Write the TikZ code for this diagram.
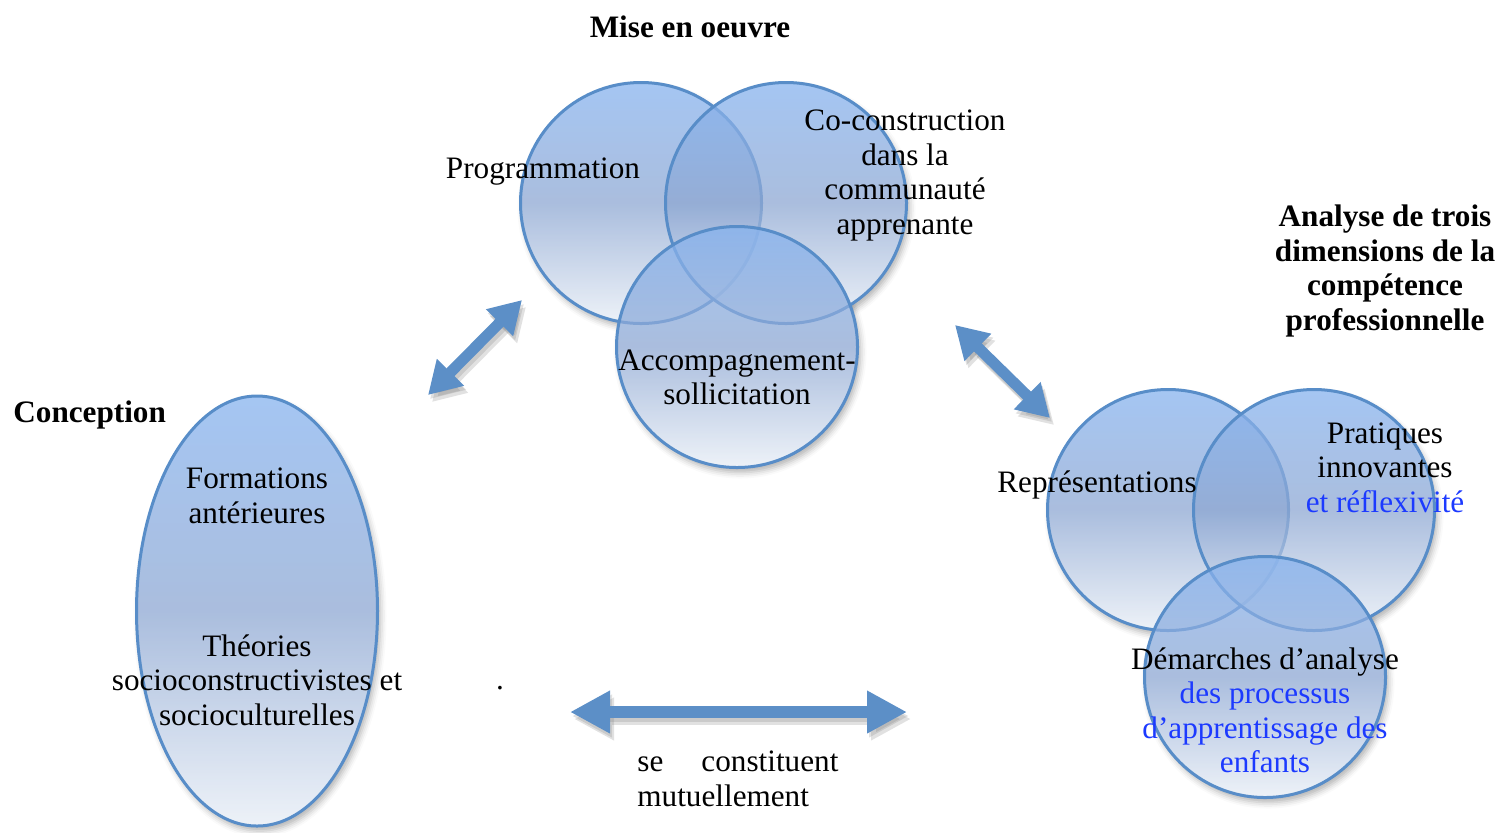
\documentclass[tikz,border=0pt]{standalone}
\usepackage{fontspec}
\setmainfont{Liberation Serif}
\usetikzlibrary{arrows.meta,shapes.geometric,shadows.blur}
\definecolor{edgeblue}{RGB}{88,141,200}
\definecolor{arrowblue}{RGB}{92,143,199}
\definecolor{topblue}{RGB}{135,179,239}
\definecolor{midblue}{RGB}{142,168,211}
\definecolor{botblue}{RGB}{232,238,246}
\definecolor{txtblue}{RGB}{28,58,255}
\definecolor{shadowgray}{RGB}{120,120,120}
\tikzset{
  venn/.style={circle, minimum size=120.5pt, inner sep=0pt, draw=edgeblue, line width=1.5pt,
    top color=topblue, bottom color=botblue, middle color=midblue, fill opacity=0.75},
  vennell/.style={ellipse, minimum width=120.5pt, minimum height=215pt, inner sep=0pt, draw=edgeblue, line width=1.5pt,
    top color=topblue, bottom color=botblue, middle color=midblue, fill opacity=0.75},
  softshadow/.style={blur shadow={shadow xshift=1.5pt, shadow yshift=-2.5pt, shadow blur radius=3pt, shadow opacity=30}},
  lbl/.style={inner sep=0pt, align=center, font=\fontsize{15.6}{17.25}\selectfont},
  ttl/.style={inner sep=0pt, align=center, font=\fontsize{15.6}{17.25}\selectfont\bfseries},
  bigarrow/.style={line width=6pt, draw=arrowblue, {Triangle[length=20pt,width=20pt]}-{Triangle[length=20pt,width=20pt]}},
  diagarrow/.style={line width=5.5pt, draw=arrowblue, {Triangle[length=16pt,width=18pt]}-{Triangle[length=16pt,width=18pt]}},
  arrowshadow/.style={draw=shadowgray, opacity=0.22}
}
\begin{document}
\begin{tikzpicture}[x=0.5pt, y=-0.5pt]
\useasboundingbox (0,0) rectangle (1503,832);
% positions
\coordinate (pA) at (641,203);
\coordinate (pB) at (786,203);
\coordinate (pC) at (737,347);
\coordinate (pD) at (1168,510);
\coordinate (pE) at (1314,510);
\coordinate (pF) at (1265,677);
\coordinate (pG) at (257,611);
% shadows
\foreach \p in {pA,pB,pC,pD,pE,pF} \path[softshadow] (\p) circle (120.5);
\path[softshadow] (pG) ellipse (120.5 and 215);
% white bases
\foreach \p in {pA,pB,pC,pD,pE,pF} \fill[white] (\p) circle (120.5);
\fill[white] (pG) ellipse (120.5 and 215);
% shapes
\node[venn] (cA) at (pA) {};
\node[venn] (cB) at (pB) {};
\node[venn] (cC) at (pC) {};
\node[venn] (cD) at (pD) {};
\node[venn] (cE) at (pE) {};
\node[venn] (cF) at (pF) {};
\node[vennell] (ell) at (pG) {};
% arrows
\coordinate (la1) at (428,395);
\coordinate (la2) at (522,300);
\coordinate (ra1) at (955,325);
\coordinate (ra2) at (1050,418);
\coordinate (ba1) at (570,712);
\coordinate (ba2) at (907,712);
\foreach \s in {(2,4),(4,7)} {
  \draw[diagarrow, arrowshadow] ([shift={\s}]la1) -- ([shift={\s}]la2);
  \draw[diagarrow, arrowshadow] ([shift={\s}]ra1) -- ([shift={\s}]ra2);
  \draw[bigarrow, arrowshadow] ([shift={\s}]ba1) -- ([shift={\s}]ba2);
}
\draw[diagarrow] (la1) -- (la2);
\draw[diagarrow] (ra1) -- (ra2);
\draw[bigarrow] (ba1) -- (ba2);
% titles
\node[ttl] (tMise) at (690,27) {Mise en oeuvre};
\node[ttl, anchor=west] (tConc) at (13,415) {Conception};
\node[ttl] (tAna) at (1385,271) {Analyse de trois\\dimensions de la\\compétence\\professionnelle};
% labels
\node[lbl] (lA) at (543,172) {Programmation};
\node[lbl] (lB) at (905,175.5) {Co-construction\\dans la\\communauté\\apprenante};
\node[lbl] (lC) at (737,377.5) {Accompagnement-\\sollicitation};
\node[lbl] (lD) at (1097,485) {Représentations};
\node[lbl] (lE) at (1385,467.5) {Pratiques\\innovantes\\\textcolor{txtblue}{et réflexivité}};
\node[lbl] (lF) at (1265,710.5) {Démarches d’analyse\\\textcolor{txtblue}{des processus}\\\textcolor{txtblue}{d’apprentissage des}\\\textcolor{txtblue}{enfants}};
\node[lbl] (lG1) at (257,496) {Formations\\antérieures};
\node[lbl] (lG2) at (257,680) {Théories\\socioconstructivistes et\\socioculturelles};
\node[lbl, align=left, anchor=west] (lMut) at (637,779) {\makebox[100.5pt][s]{se\hfill constituent}\\mutuellement};
\node[lbl] (dot) at (500,688) {.};
\end{tikzpicture}
\end{document}
